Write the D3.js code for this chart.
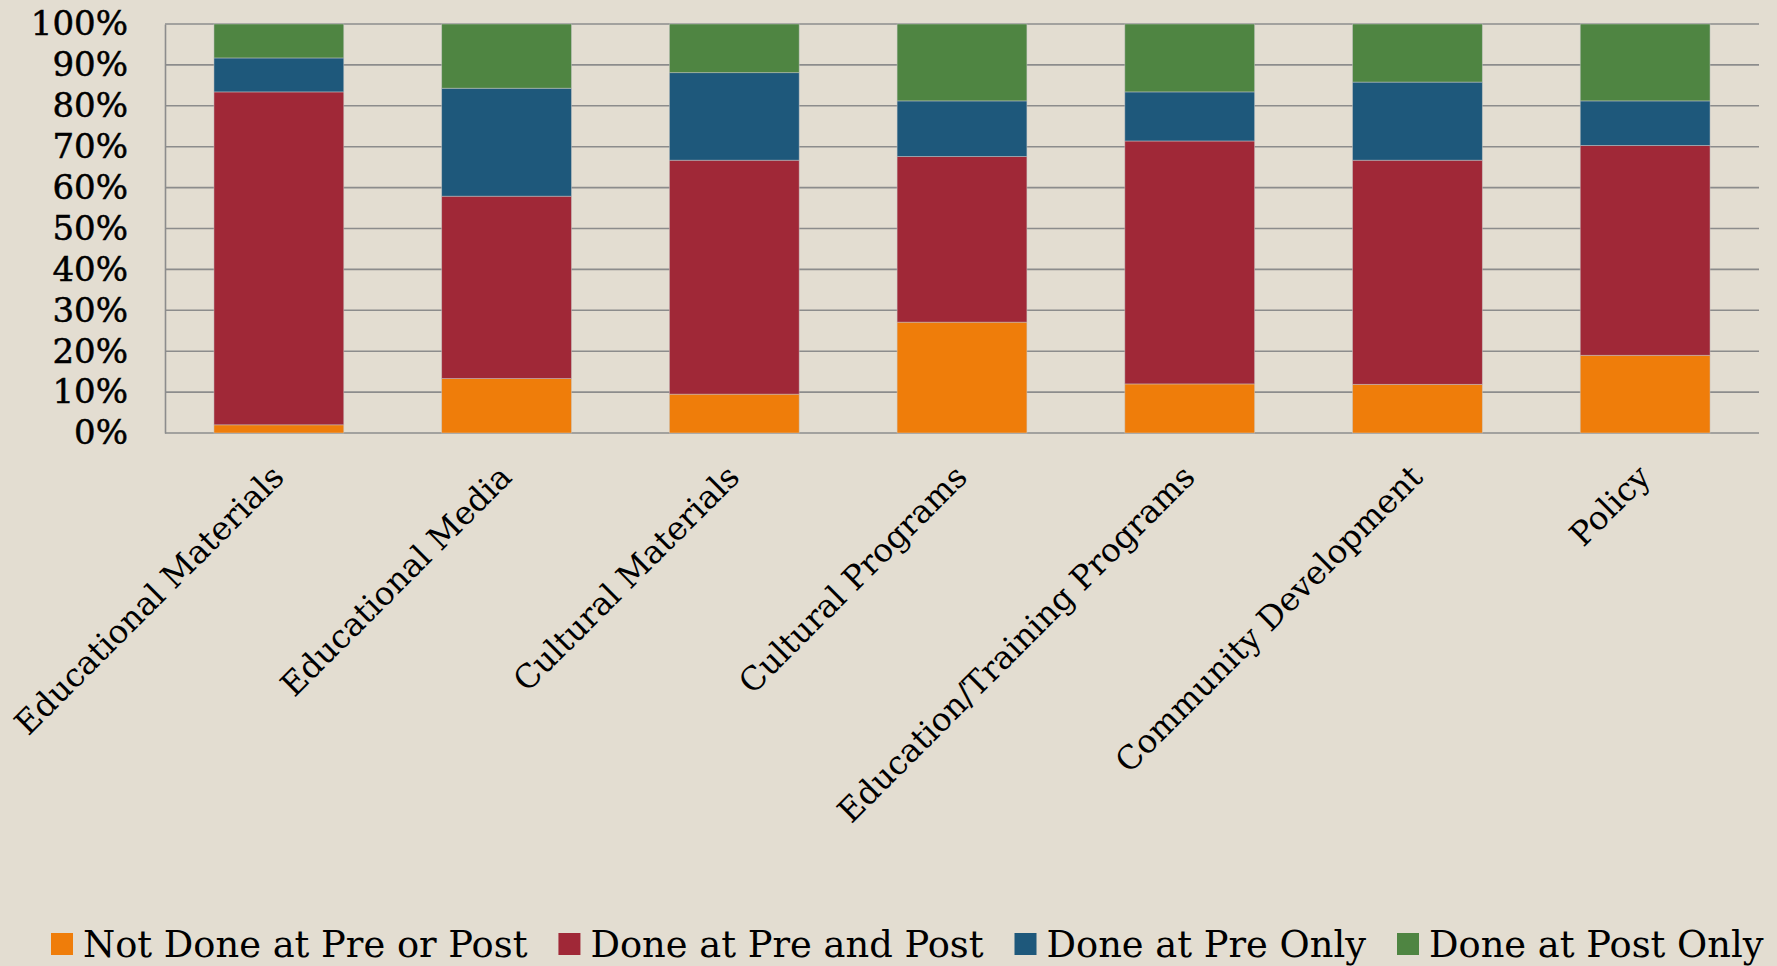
<!DOCTYPE html>
<html>
<head>
<meta charset="utf-8">
<script src="https://cdn.jsdelivr.net/npm/d3@7"></script>
<style>
    html, body { margin: 0; padding: 0; background: #e3ddd1; }
    #data-viz { width: 1777px; height: 966px; }
</style>
</head>
<body>
<div id="data-viz"></div>
<script>
const categories = [
    "Educational Materials",
    "Educational Media",
    "Cultural Materials",
    "Cultural Programs",
    "Education/Training Programs",
    "Community Development",
    "Policy"
]
const seriesNames = ["Not Done at Pre or Post", "Done at Pre and Post", "Done at Pre Only", "Done at Post Only"]
const notDone = [2.0, 13.3, 9.5, 27.1, 12.0, 11.9, 19.0]
const donePrePost = [81.4, 44.6, 57.2, 40.5, 59.4, 54.8, 51.3]
const donePreOnly = [8.3, 26.4, 21.4, 13.6, 12.0, 19.1, 10.9]
const donePostOnly = [8.3, 15.7, 11.9, 18.8, 16.6, 14.2, 18.8]
const tickValues = [0, 0.1, 0.2, 0.3, 0.4, 0.5, 0.6, 0.7, 0.8, 0.9, 1]

const colors = ["#ef7d0a", "#a02837", "#1e587b", "#4f8542"]

function drawChart() {
    const font = "'DejaVu Serif', 'Liberation Serif', serif"

    let dimensions = {
        width: 1777,
        height: 966,
        margin: { top: 24, left: 165, right: 18, bottom: 533 }
    }
    dimensions.boundedWidth = dimensions.width - dimensions.margin.left - dimensions.margin.right
    dimensions.boundedHeight = dimensions.height - dimensions.margin.top - dimensions.margin.bottom

    const dataset = categories.map((c, i) => ({
        category: c,
        [seriesNames[0]]: notDone[i],
        [seriesNames[1]]: donePrePost[i],
        [seriesNames[2]]: donePreOnly[i],
        [seriesNames[3]]: donePostOnly[i]
    }))

    const stacked = d3.stack()
        .keys(seriesNames)
        .offset(d3.stackOffsetExpand)(dataset)

    const svg = d3.select("#data-viz").append("svg")
        .attr("width", dimensions.width)
        .attr("height", dimensions.height)
        .style("font-family", font)

    svg.append("rect")
        .attr("width", dimensions.width)
        .attr("height", dimensions.height)
        .attr("fill", "#e3ddd1")

    const chart = svg.append("g")
        .attr("transform", `translate(${dimensions.margin.left}, ${dimensions.margin.top})`)

    const xScale = d3.scaleBand()
        .domain(categories)
        .range([0, dimensions.boundedWidth])
        .paddingInner(0.43)
        .paddingOuter(0.215)

    const yScale = d3.scaleLinear()
        .domain([0, 1])
        .range([dimensions.boundedHeight, 0])

    // gridlines
    chart.append("g")
        .selectAll("line")
        .data(tickValues)
        .join("line")
            .attr("x1", 0)
            .attr("x2", dimensions.boundedWidth)
            .attr("y1", d => yScale(d))
            .attr("y2", d => yScale(d))
            .attr("stroke", "#8c8c8c")
            .attr("stroke-width", 1.6)

    // y axis
    const yAxis = chart.append("g")
        .call(d3.axisLeft(yScale)
            .tickValues(tickValues)
            .tickFormat(d3.format(".0%"))
            .tickSize(0)
            .tickPadding(37))
    yAxis.select(".domain").attr("stroke", "#8c8c8c").attr("stroke-width", 1.6)
    yAxis.selectAll("text")
        .style("font-family", font)
        .style("font-size", "34px")
        .attr("fill", "#000")
        .attr("stroke", "#000")
        .attr("stroke-width", 0.5)

    // bars
    chart.append("g")
        .selectAll("g")
        .data(stacked)
        .join("g")
            .attr("fill", (d, i) => colors[i])
        .selectAll("rect")
        .data(d => d)
        .join("rect")
            .attr("x", d => xScale(d.data.category))
            .attr("width", xScale.bandwidth())
            .attr("y", d => yScale(d[1]))
            .attr("height", d => yScale(d[0]) - yScale(d[1]))
            .attr("stroke", "rgba(200,200,200,0.6)")
            .attr("stroke-width", 0.8)

    // x labels, rotated
    const xAxis = chart.append("g")
        .attr("transform", `translate(0, ${dimensions.boundedHeight})`)
        .call(d3.axisBottom(xScale).tickSize(0).tickPadding(0))
    xAxis.select(".domain").remove()
    xAxis.selectAll("text")
        .style("font-family", font)
        .style("font-size", "32.5px")
        .attr("fill", "#000")
        .attr("text-anchor", "end")
        .attr("y", 0)
        .attr("dy", 0)
        .attr("transform", "translate(7, 46) rotate(-45)")

    // legend
    const legend = svg.append("g")
        .attr("transform", "translate(51, 933)")
    let cursor = 0
    seriesNames.forEach((name, i) => {
        const item = legend.append("g").attr("transform", `translate(${cursor}, 0)`)
        item.append("rect")
            .attr("width", 22)
            .attr("height", 22)
            .attr("fill", colors[i])
        const label = item.append("text")
            .attr("x", 32)
            .attr("y", 24)
            .style("font-size", "36.8px")
            .attr("fill", "#000")
            .text(name)
        cursor += 32 + label.node().getComputedTextLength() + 31
    })
}

drawChart()
</script>
</body>
</html>
